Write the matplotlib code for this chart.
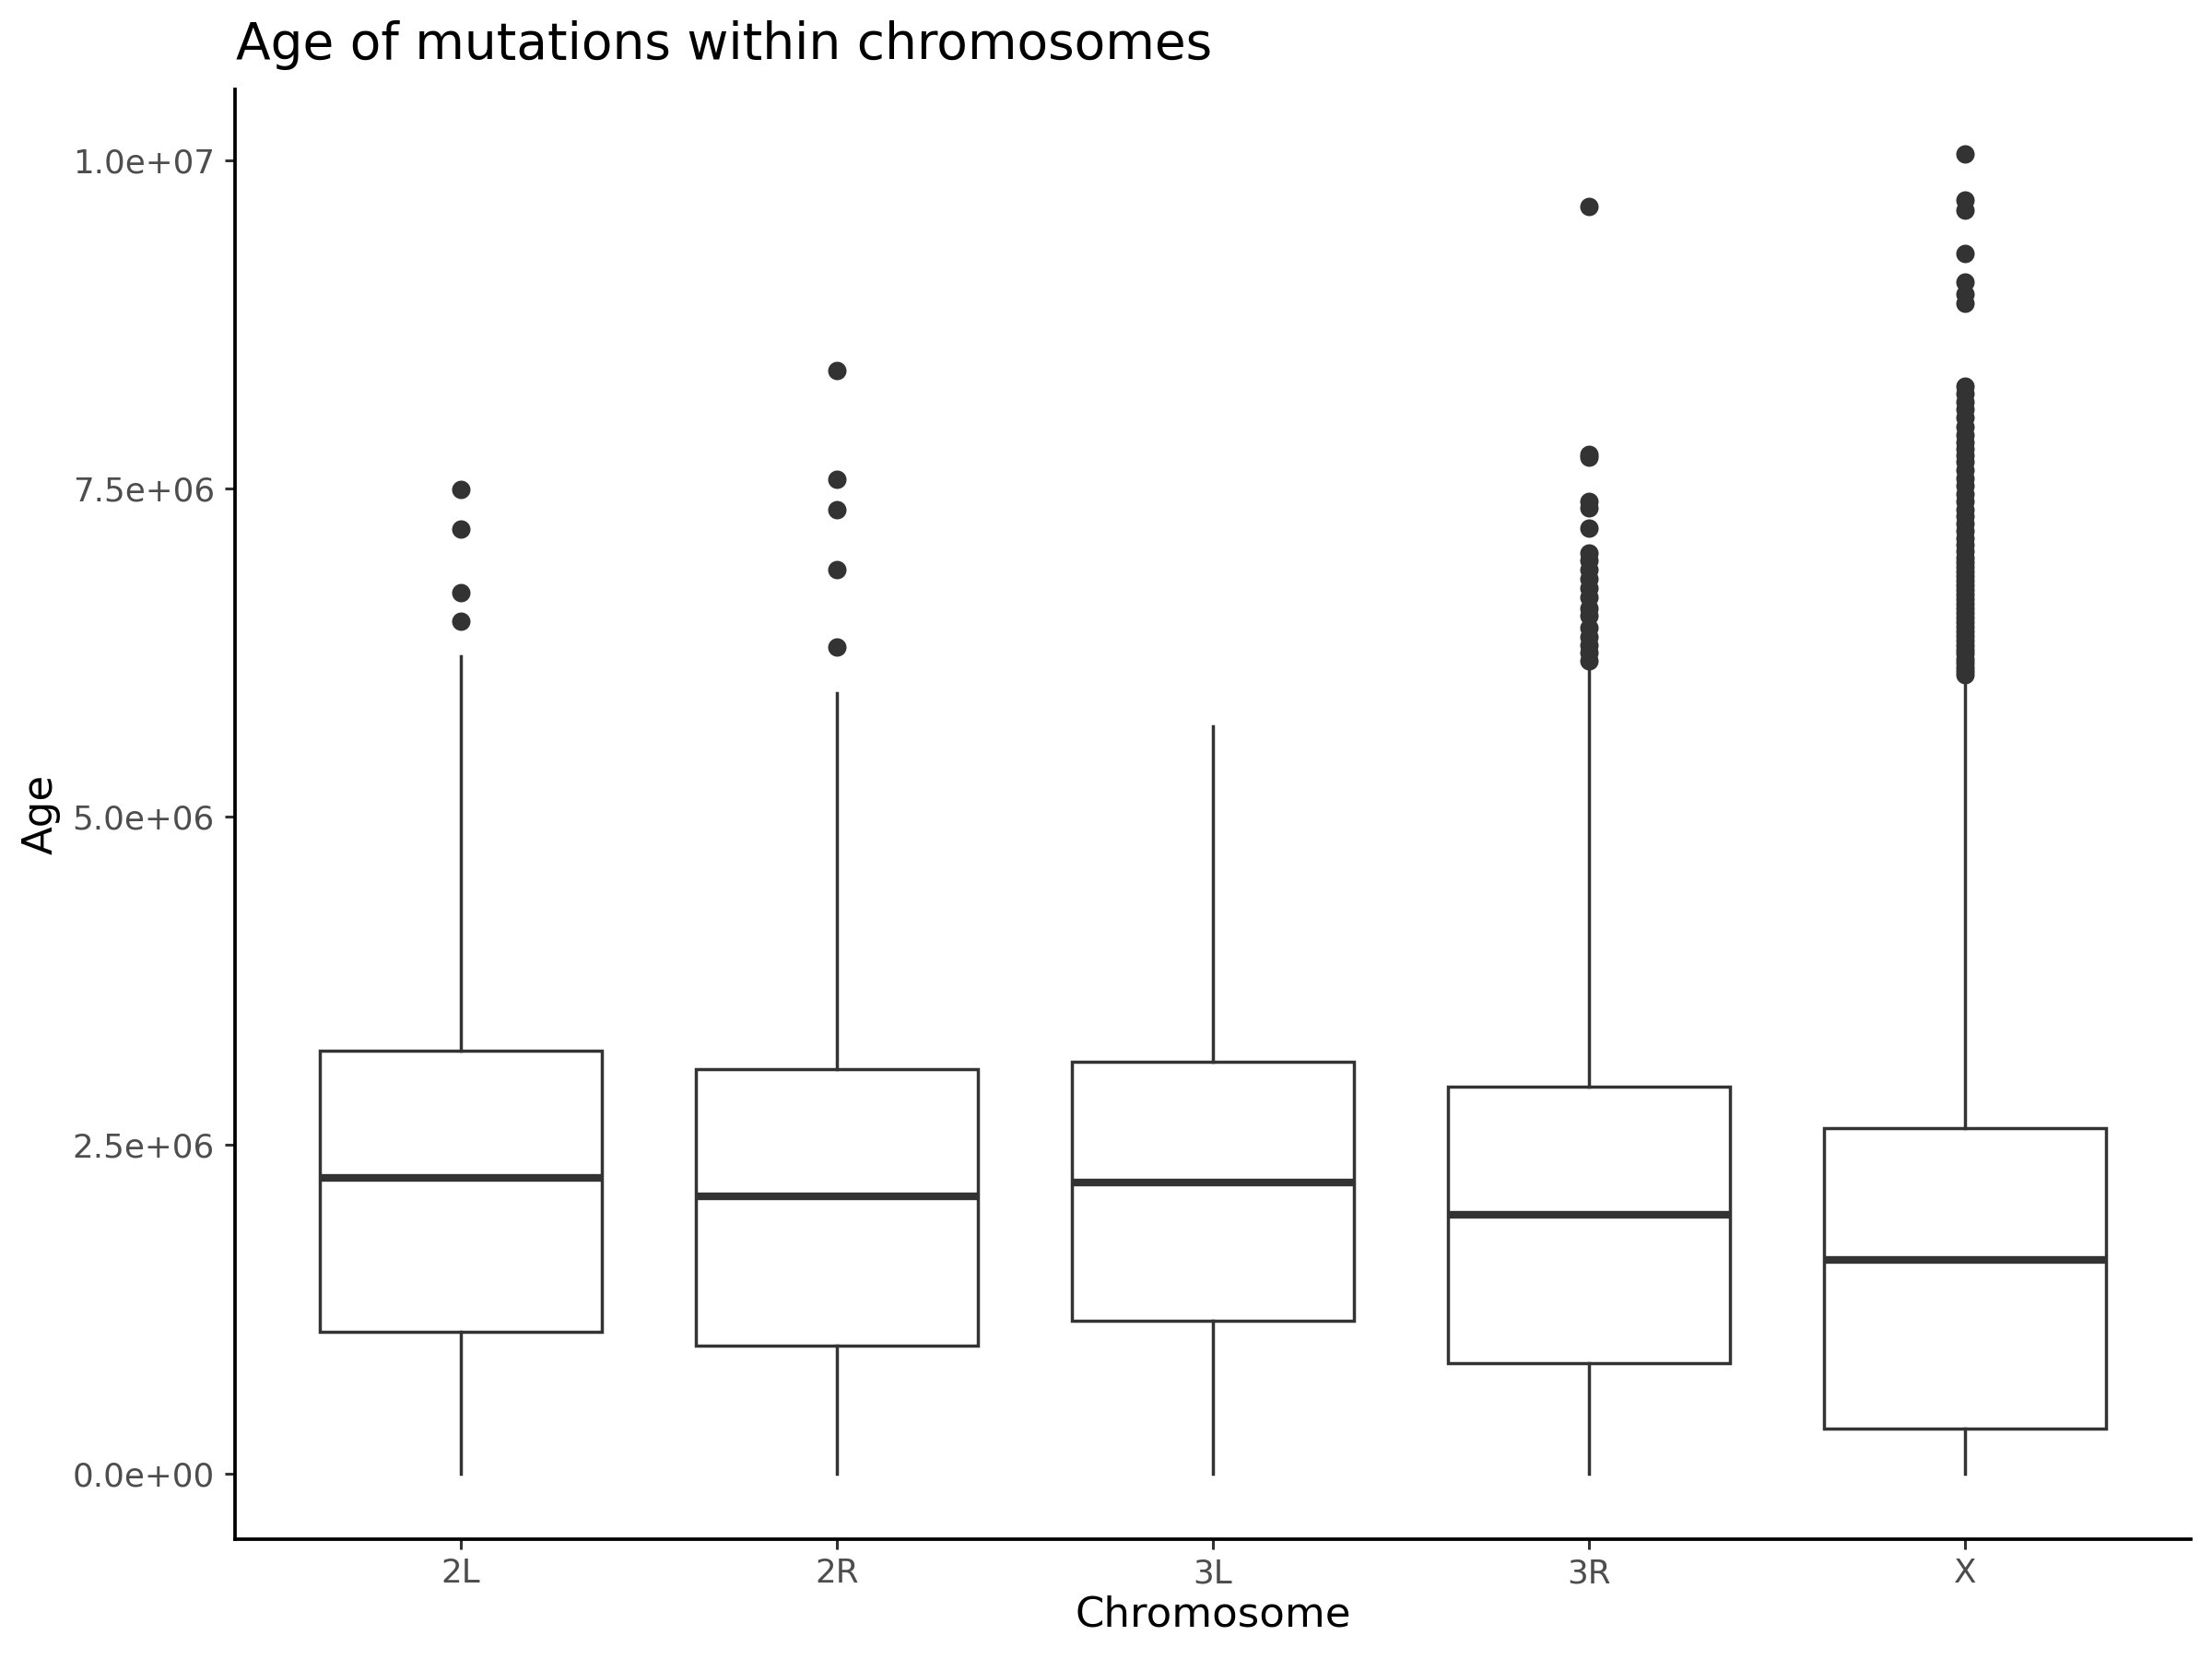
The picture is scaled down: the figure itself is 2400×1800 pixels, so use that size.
import matplotlib
matplotlib.use("Agg")
import matplotlib.pyplot as plt
from matplotlib.ticker import FuncFormatter

# ---- data ----
categories = ["2L", "2R", "3L", "3R", "X"]
q1 = [1.081e6, 0.971e6, 1.165e6, 0.838e6, 0.338e6]
medians = [2.251e6, 2.106e6, 2.218e6, 1.971e6, 1.627e6]
q3 = [3.215e6, 3.081e6, 3.132e6, 2.947e6, 2.628e6]
whisker_low = [0.0, 0.0, 0.0, 0.0, 0.0]
whisker_high = [6.22e6, 5.94e6, 5.69e6, 6.13e6, 6.04e6]

outliers_2L = [7.49e6, 7.19e6, 6.71e6, 6.49e6]
outliers_2R = [8.40e6, 7.57e6, 7.34e6, 6.88e6, 6.29e6]
outliers_3L = []
outliers_3R = [9.65e6, 7.76e6, 7.74e6, 7.40e6, 7.35e6, 7.20e6, 7.01e6, 6.95e6,
               6.88e6, 6.81e6, 6.74e6, 6.67e6, 6.59e6, 6.53e6, 6.44e6, 6.37e6,
               6.31e6, 6.25e6, 6.19e6]
outliers_X = [10.05e6, 9.70e6, 9.62e6, 9.29e6, 9.07e6, 8.98e6, 8.91e6,
              8.28e6, 8.22e6, 8.16e6, 8.10e6, 8.04e6, 7.97e6, 7.91e6, 7.85e6,
              7.80e6, 7.75e6, 7.70e6, 7.64e6, 7.58e6, 7.52e6, 7.46e6, 7.40e6,
              7.34e6, 7.29e6, 7.23e6, 7.18e6, 7.12e6, 7.07e6, 7.02e6, 6.97e6,
              6.94e6, 6.90e6, 6.87e6, 6.83e6, 6.80e6, 6.76e6, 6.73e6, 6.69e6,
              6.66e6, 6.62e6, 6.59e6, 6.55e6, 6.52e6, 6.48e6, 6.45e6, 6.41e6,
              6.38e6, 6.34e6, 6.31e6, 6.27e6, 6.24e6, 6.20e6, 6.17e6, 6.14e6,
              6.11e6, 6.08e6]
outliers = [outliers_2L, outliers_2R, outliers_3L, outliers_3R, outliers_X]

yticks = [0.0, 2.5e6, 5.0e6, 7.5e6, 1.0e7]

# ---- figure ----
dark = "#333333"
fig = plt.figure(figsize=(12, 9), dpi=200)
left, right, bottom, top = 0.10625, 0.9903, 0.0722, 0.9462
ax = fig.add_axes([left, bottom, right - left, top - bottom])

stats = []
for i, c in enumerate(categories):
    stats.append(dict(label=c, q1=q1[i], med=medians[i], q3=q3[i],
                      whislo=whisker_low[i], whishi=whisker_high[i],
                      fliers=outliers[i]))

positions = list(range(1, len(categories) + 1))
ax.bxp(stats, positions=positions, widths=0.75, showcaps=False,
       patch_artist=True,
       boxprops=dict(facecolor="white", edgecolor=dark, linewidth=1.25),
       medianprops=dict(color=dark, linewidth=3.0, solid_capstyle="butt"),
       whiskerprops=dict(color=dark, linewidth=1.25),
       flierprops=dict(marker="o", markerfacecolor=dark, markeredgecolor="none",
                       markersize=7.2, linestyle="none"))

ax.set_xlim(0.4, 5.6)
ax.set_ylim(-0.502e6, 10.54e6)
ax.set_xticks(positions)
ax.set_xticklabels(categories)
ax.set_yticks(yticks)
ax.yaxis.set_major_formatter(FuncFormatter(lambda v, p: f"{v:.1e}"))

for s in ["top", "right"]:
    ax.spines[s].set_visible(False)
for s in ["left", "bottom"]:
    ax.spines[s].set_color("black")
    ax.spines[s].set_linewidth(1.35)

ax.tick_params(axis="both", length=4.0, width=1.1, color=dark,
               labelcolor="#4D4D4D", labelsize=12.9, pad=4.0)
ax.tick_params(axis="x", pad=3.2)

ax.set_xlabel("Chromosome", fontsize=16.2, color="black")
ax.xaxis.set_label_coords(0.5, -0.0521)
ax.xaxis.label.set_va("center")
ax.set_ylabel("Age", fontsize=16.2, color="black")
ax.yaxis.set_label_coords(-0.0994, 0.5)
ax.yaxis.label.set_va("center")

fig.text(0.1068, 1 - 64 / 1800, "Age of mutations within chromosomes",
         fontsize=19.8, color="black", ha="left", va="baseline")

fig.savefig("out.png", dpi=200, facecolor="white")
